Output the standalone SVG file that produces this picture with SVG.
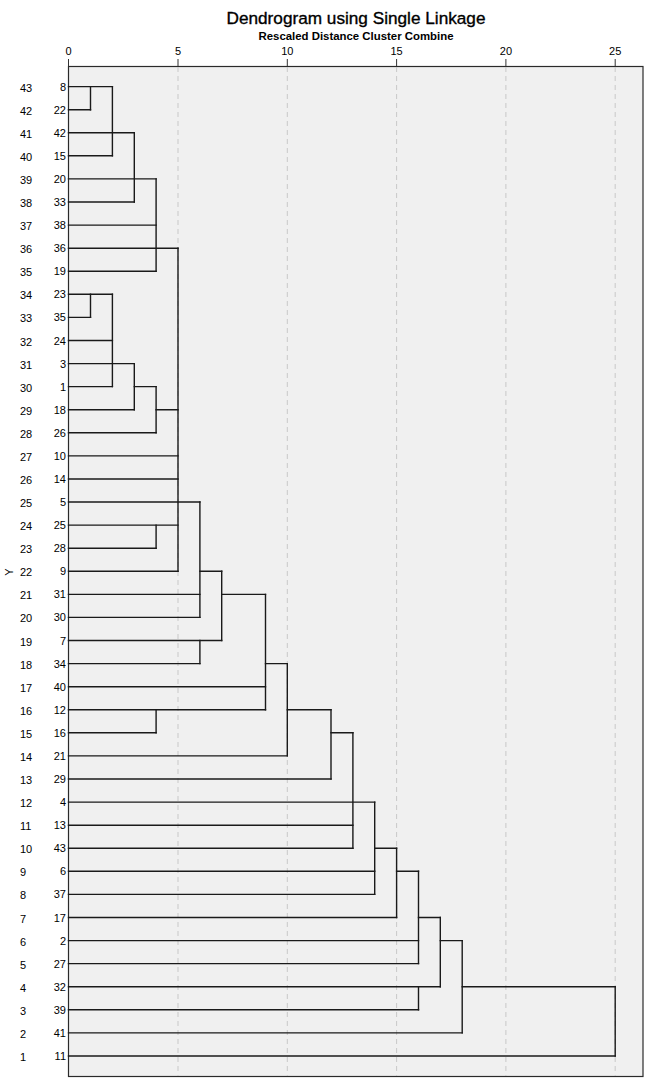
<svg xmlns="http://www.w3.org/2000/svg" width="651" height="1089" viewBox="0 0 651 1089">
<style>
.t{font-family:"Liberation Sans",Arial,sans-serif;fill:#000}
.rl{font-size:11px}
.cl{font-size:11px;text-anchor:end}
.tk{font-size:11px;text-anchor:middle}
.grid{stroke:#c8c8c8;stroke-width:1;stroke-dasharray:5,4}
.ln{stroke:#1a1a1a;stroke-width:1.4;fill:none;stroke-linecap:square}
</style>
<rect width="651" height="1089" fill="#fff"/>
<g id="title">
<text class="t" x="356" y="24" font-size="17.2" text-anchor="middle" stroke="#000" stroke-width="0.35">Dendrogram using Single Linkage</text>
<text class="t" x="356" y="40" font-size="11.4" font-weight="bold" text-anchor="middle">Rescaled Distance Cluster Combine</text>
</g>
<g id="plot">
<rect x="68.5" y="66.5" width="574.5" height="1010" fill="#f0f0f0" stroke="#2a2a2a" stroke-width="1.2"/>
<line class="grid" x1="178" y1="67" x2="178" y2="1076"/>
<line class="grid" x1="287.3" y1="67" x2="287.3" y2="1076"/>
<line class="grid" x1="396.6" y1="67" x2="396.6" y2="1076"/>
<line class="grid" x1="505.9" y1="67" x2="505.9" y2="1076"/>
<line class="grid" x1="615.2" y1="67" x2="615.2" y2="1076"/>
</g>
<g id="axis">
<g stroke="#333" stroke-width="1">
<line x1="68.5" y1="59" x2="68.5" y2="66"/>
<line x1="178" y1="59" x2="178" y2="66"/>
<line x1="287.3" y1="59" x2="287.3" y2="66"/>
<line x1="396.6" y1="59" x2="396.6" y2="66"/>
<line x1="505.9" y1="59" x2="505.9" y2="66"/>
<line x1="615.2" y1="59" x2="615.2" y2="66"/>
</g>
<text class="t tk" x="68.5" y="55">0</text>
<text class="t tk" x="178" y="55">5</text>
<text class="t tk" x="287.3" y="55">10</text>
<text class="t tk" x="396.6" y="55">15</text>
<text class="t tk" x="505.9" y="55">20</text>
<text class="t tk" x="615.2" y="55">25</text>
<text class="t" font-size="11" transform="translate(13,572) rotate(-90)" text-anchor="middle">Y</text>
</g>
<g id="row-labels">
<text class="t rl" x="20" y="91.6">43</text>
<text class="t rl" x="20" y="114.7">42</text>
<text class="t rl" x="20" y="137.8">41</text>
<text class="t rl" x="20" y="160.8">40</text>
<text class="t rl" x="20" y="183.9">39</text>
<text class="t rl" x="20" y="207">38</text>
<text class="t rl" x="20" y="230.1">37</text>
<text class="t rl" x="20" y="253.2">36</text>
<text class="t rl" x="20" y="276.2">35</text>
<text class="t rl" x="20" y="299.3">34</text>
<text class="t rl" x="20" y="322.4">33</text>
<text class="t rl" x="20" y="345.5">32</text>
<text class="t rl" x="20" y="368.6">31</text>
<text class="t rl" x="20" y="391.6">30</text>
<text class="t rl" x="20" y="414.7">29</text>
<text class="t rl" x="20" y="437.8">28</text>
<text class="t rl" x="20" y="460.9">27</text>
<text class="t rl" x="20" y="484">26</text>
<text class="t rl" x="20" y="507">25</text>
<text class="t rl" x="20" y="530.1">24</text>
<text class="t rl" x="20" y="553.2">23</text>
<text class="t rl" x="20" y="576.3">22</text>
<text class="t rl" x="20" y="599.4">21</text>
<text class="t rl" x="20" y="622.4">20</text>
<text class="t rl" x="20" y="645.5">19</text>
<text class="t rl" x="20" y="668.6">18</text>
<text class="t rl" x="20" y="691.7">17</text>
<text class="t rl" x="20" y="714.8">16</text>
<text class="t rl" x="20" y="737.8">15</text>
<text class="t rl" x="20" y="760.9">14</text>
<text class="t rl" x="20" y="784">13</text>
<text class="t rl" x="20" y="807.1">12</text>
<text class="t rl" x="20" y="830.2">11</text>
<text class="t rl" x="20" y="853.2">10</text>
<text class="t rl" x="20" y="876.3">9</text>
<text class="t rl" x="20" y="899.4">8</text>
<text class="t rl" x="20" y="922.5">7</text>
<text class="t rl" x="20" y="945.6">6</text>
<text class="t rl" x="20" y="968.6">5</text>
<text class="t rl" x="20" y="991.7">4</text>
<text class="t rl" x="20" y="1014.8">3</text>
<text class="t rl" x="20" y="1037.9">2</text>
<text class="t rl" x="20" y="1061">1</text>
</g>
<g id="case-labels">
<text class="t cl" x="66" y="90.6">8</text>
<text class="t cl" x="66" y="113.7">22</text>
<text class="t cl" x="66" y="136.8">42</text>
<text class="t cl" x="66" y="159.8">15</text>
<text class="t cl" x="66" y="182.9">20</text>
<text class="t cl" x="66" y="206">33</text>
<text class="t cl" x="66" y="229.1">38</text>
<text class="t cl" x="66" y="252.2">36</text>
<text class="t cl" x="66" y="275.2">19</text>
<text class="t cl" x="66" y="298.3">23</text>
<text class="t cl" x="66" y="321.4">35</text>
<text class="t cl" x="66" y="344.5">24</text>
<text class="t cl" x="66" y="367.6">3</text>
<text class="t cl" x="66" y="390.6">1</text>
<text class="t cl" x="66" y="413.7">18</text>
<text class="t cl" x="66" y="436.8">26</text>
<text class="t cl" x="66" y="459.9">10</text>
<text class="t cl" x="66" y="483">14</text>
<text class="t cl" x="66" y="506">5</text>
<text class="t cl" x="66" y="529.1">25</text>
<text class="t cl" x="66" y="552.2">28</text>
<text class="t cl" x="66" y="575.3">9</text>
<text class="t cl" x="66" y="598.4">31</text>
<text class="t cl" x="66" y="621.4">30</text>
<text class="t cl" x="66" y="644.5">7</text>
<text class="t cl" x="66" y="667.6">34</text>
<text class="t cl" x="66" y="690.7">40</text>
<text class="t cl" x="66" y="713.8">12</text>
<text class="t cl" x="66" y="736.8">16</text>
<text class="t cl" x="66" y="759.9">21</text>
<text class="t cl" x="66" y="783">29</text>
<text class="t cl" x="66" y="806.1">4</text>
<text class="t cl" x="66" y="829.2">13</text>
<text class="t cl" x="66" y="852.2">43</text>
<text class="t cl" x="66" y="875.3">6</text>
<text class="t cl" x="66" y="898.4">37</text>
<text class="t cl" x="66" y="921.5">17</text>
<text class="t cl" x="66" y="944.6">2</text>
<text class="t cl" x="66" y="967.6">27</text>
<text class="t cl" x="66" y="990.7">32</text>
<text class="t cl" x="66" y="1013.8">39</text>
<text class="t cl" x="66" y="1036.9">41</text>
<text class="t cl" x="66" y="1060">11</text>
</g>
<g id="connectors" class="ln">
<path d="M68.5 86.6H112.4M68.5 109.7H90.5M68.5 132.8H134.3M68.5 155.8H112.4M68.5 178.9H156.1M68.5 202H134.3M68.5 225.1H156.1M68.5 248.2H178M68.5 271.2H156.1"/>
<path d="M68.5 294.3H112.4M68.5 317.4H90.5M68.5 340.5H112.4M68.5 363.6H134.3M68.5 386.6H112.4M134.3 386.6H156.1M68.5 409.7H134.3M156.1 409.7H178M68.5 432.8H156.1M68.5 455.9H178M68.5 479H178"/>
<path d="M68.5 502H199.9M68.5 525.1H178M68.5 548.2H156.1M68.5 571.3H178M199.9 571.3H221.7M68.5 594.4H199.9M221.7 594.4H265.5M68.5 617.4H199.9M68.5 640.5H221.7M68.5 663.6H199.9M265.5 663.6H287.3"/>
<path d="M68.5 686.7H265.5M68.5 709.8H265.5M287.3 709.8H331M68.5 732.8H156.1M331 732.8H352.9M68.5 755.9H287.3M68.5 779H331"/>
<path d="M68.5 802.1H374.7M68.5 825.2H352.9M68.5 848.2H352.9M374.7 848.2H396.6M68.5 871.3H374.7M396.6 871.3H418.5M68.5 894.4H374.7M68.5 917.5H396.6M418.5 917.5H440.3M68.5 940.6H418.5M440.3 940.6H462.2M68.5 963.6H418.5M68.5 986.7H440.3M462.2 986.7H615.2M68.5 1009.8H418.5M68.5 1032.9H462.2M68.5 1056H615.2"/>
<path d="M90.5 86.6V109.7M112.4 86.6V155.8M134.3 132.8V202M156.1 178.9V271.2M178 248.2V571.3"/>
<path d="M90.5 294.3V317.4M112.4 294.3V386.6M134.3 363.6V409.7M156.1 386.6V432.8M156.1 525.1V548.2"/>
<path d="M199.9 502V617.4M221.7 571.3V640.5M199.9 640.5V663.6M265.5 594.4V709.8M156.1 709.8V732.8M287.3 663.6V755.9M331 709.8V779M352.9 732.8V848.2"/>
<path d="M374.7 802.1V894.4M396.6 848.2V917.5M418.5 871.3V963.6M440.3 917.5V986.7M418.5 986.7V1009.8M462.2 940.6V1032.9M615.2 986.7V1056"/>
</g>
</svg>
